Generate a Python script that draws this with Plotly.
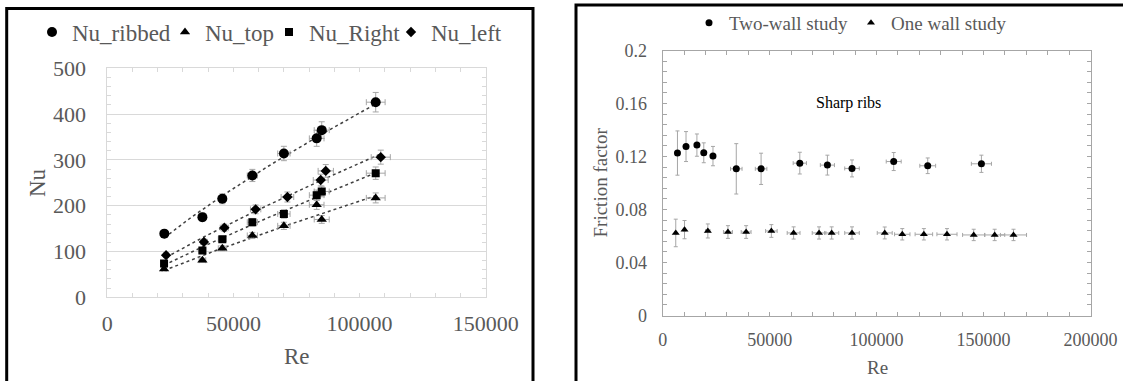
import numpy as np
import plotly.graph_objects as go

# ---------------- Left chart data (Nu vs Re) ----------------
re_ribbed = [22600, 37700, 45600, 57500, 70000, 83000, 85000, 106400]
nu_ribbed = [139, 175, 215, 266, 314, 347, 365, 426]
re_top = [22500, 37700, 45600, 57500, 70000, 83000, 85000, 106400]
nu_top = [62, 81, 107, 135, 156, 202, 170, 217]
re_right = [22500, 37700, 45600, 57500, 70000, 83000, 85000, 106400]
nu_right = [74, 102, 127, 164, 182, 223, 231, 271]
re_left = [23300, 38300, 46400, 58800, 71400, 84600, 86600, 108400]
nu_left = [92, 121, 152, 192, 219, 256, 276, 306]
nu_err_pct = 5.0
re_err_pct = 3.5

# ---------------- Right chart data (friction factor vs Re) ----------------
re_two = [6900, 10900, 16000, 19200, 23500, 34400, 46000, 64100, 77000, 88500, 108000, 123900, 149000]
f_two = [0.1226, 0.1275, 0.1286, 0.1228, 0.1203, 0.1107, 0.1107, 0.1150, 0.1135, 0.1110, 0.1162, 0.1130, 0.1145]
f_two_err = [0.0167, 0.0113, 0.0084, 0.0075, 0.0073, 0.0190, 0.0118, 0.0082, 0.0075, 0.0064, 0.0068, 0.0059, 0.0065]
re_two_err = [500, 700, 900, 1000, 1200, 2700, 2700, 3100, 3300, 3400, 3500, 3700, 4700]

re_one = [6100, 10200, 21100, 30500, 39000, 50800, 61200, 73100, 79000, 88500, 103800, 112000, 122100, 132900, 145400, 155200, 164000]
f_one = [0.0623, 0.0648, 0.0638, 0.0630, 0.0630, 0.0638, 0.0623, 0.0623, 0.0623, 0.0623, 0.0623, 0.0613, 0.0613, 0.0613, 0.0608, 0.0608, 0.0608]
f_one_err = [0.0104, 0.0069, 0.0053, 0.0048, 0.0048, 0.0048, 0.0046, 0.0046, 0.0046, 0.0046, 0.0045, 0.0043, 0.0043, 0.0043, 0.0043, 0.0043, 0.0043]
re_one_err = [300, 500, 1000, 2100, 2300, 2700, 3000, 3200, 3300, 3400, 3500, 3600, 4100, 4700, 5200, 4700, 6100]

FONT = "Liberation Serif"
GRAY_TXT = "#595959"
ERR_COL = "#a6a6a6"
W, H = 1123, 381

fig = go.Figure()


def px(x):
    return x / W


def py(y):
    return (H - y) / H


def power_fit(xs, ys):
    xs = np.asarray(xs, float)
    ys = np.asarray(ys, float)
    b, ln_a = np.polyfit(np.log(xs), np.log(ys), 1)
    xf = np.linspace(xs.min(), xs.max(), 60)
    return xf, np.exp(ln_a) * xf ** b


# name, x, y, symbol, size, legend id, legend left x (px)
left_series = [
    ("Nu_ribbed", re_ribbed, nu_ribbed, "circle", 10, "legend", 32),
    ("Nu_top", re_top, nu_top, "triangle-up", 9, "legend2", 165),
    ("Nu_Right", re_right, nu_right, "square", 8, "legend3", 269),
    ("Nu_left", re_left, nu_left, "diamond", 8, "legend4", 391),
]

for name, xs, ys, sym, sz, lg, lx in left_series:
    xf, yf = power_fit(xs, ys)
    fig.add_trace(go.Scatter(
        x=xf, y=yf, mode="lines", xaxis="x", yaxis="y",
        line=dict(color="#404040", width=1.5, dash="dot"),
        showlegend=False, hoverinfo="skip"))

for name, xs, ys, sym, sz, lg, lx in left_series:
    fig.add_trace(go.Scatter(
        x=xs, y=ys, mode="markers", name=name, xaxis="x", yaxis="y",
        legend=lg,
        marker=dict(symbol=sym, size=sz, color="black"),
        error_y=dict(type="percent", value=nu_err_pct, color=ERR_COL, thickness=1, width=3),
        error_x=dict(type="percent", value=re_err_pct, color=ERR_COL, thickness=1, width=3),
    ))

fig.add_trace(go.Scatter(
    x=re_two, y=f_two, mode="markers", name="Two-wall study", xaxis="x2", yaxis="y2",
    legend="legend5",
    marker=dict(symbol="circle", size=7, color="black"),
    error_y=dict(type="data", array=f_two_err, color=ERR_COL, thickness=1, width=2),
    error_x=dict(type="data", array=re_two_err, color=ERR_COL, thickness=1, width=2),
))
fig.add_trace(go.Scatter(
    x=re_one, y=f_one, mode="markers", name="One wall study", xaxis="x2", yaxis="y2",
    legend="legend6",
    marker=dict(symbol="triangle-up", size=7, color="black"),
    error_y=dict(type="data", array=f_one_err, color=ERR_COL, thickness=1, width=2),
    error_x=dict(type="data", array=re_one_err, color=ERR_COL, thickness=1, width=2),
))

left_tick_font = dict(family=FONT, size=22, color=GRAY_TXT)
right_tick_font = dict(family=FONT, size=18, color=GRAY_TXT)


def leg(xpix, ypix, size):
    return dict(
        orientation="h", x=px(xpix), xanchor="left", y=py(ypix), yanchor="middle",
        font=dict(family=FONT, size=size, color=GRAY_TXT), itemwidth=30,
        bgcolor="rgba(0,0,0,0)", borderwidth=0,
    )


legends = {}
for name, xs, ys, sym, sz, lg, lx in left_series:
    legends[lg] = leg(lx, 32, 23)
legends["legend5"] = leg(689, 23, 19)
legends["legend6"] = leg(851, 23, 19)

fig.update_layout(
    width=W, height=H, autosize=False,
    margin=dict(l=0, r=0, t=0, b=0, autoexpand=False),
    paper_bgcolor="white", plot_bgcolor="white",
    font=dict(family=FONT, color=GRAY_TXT),
    xaxis=dict(
        domain=[px(107.3), px(485.7)], anchor="y", range=[0, 150000],
        dtick=50000, tickformat="d", tickfont=left_tick_font,
        showgrid=False, zeroline=False, automargin=False,
        showline=True, linecolor="#d9d9d9", linewidth=1, mirror="ticks",
        ticks="inside", ticklen=4, tickcolor="#d9d9d9",
        minor=dict(dtick=10000, ticks="inside", ticklen=4, tickcolor="#d9d9d9", showgrid=False),
        ticklabelstandoff=6,
    ),
    yaxis=dict(
        domain=[py(297.3), py(68.3)], anchor="x", range=[0, 500],
        dtick=100, tickfont=left_tick_font,
        showgrid=True, gridcolor="#d9d9d9", gridwidth=1, zeroline=False, automargin=False,
        showline=True, linecolor="#d9d9d9", linewidth=1, mirror="ticks",
        ticks="inside", ticklen=4, tickcolor="#d9d9d9",
        minor=dict(dtick=20, ticks="inside", ticklen=4, tickcolor="#d9d9d9", showgrid=False),
        ticklabelstandoff=16,
    ),
    xaxis2=dict(
        domain=[px(662.7), px(1090.5)], anchor="y2", range=[0, 200000],
        dtick=50000, tickformat="d", tickfont=right_tick_font,
        showgrid=False, zeroline=False, automargin=False,
        showline=True, linecolor="#a6a6a6", linewidth=1, mirror="ticks",
        ticks="inside", ticklen=4, tickcolor="#a6a6a6",
        minor=dict(dtick=10000, ticks="inside", ticklen=4, tickcolor="#a6a6a6", showgrid=False),
        ticklabelstandoff=8,
    ),
    yaxis2=dict(
        domain=[py(315.5), py(50.5)], anchor="x2", range=[0, 0.2],
        dtick=0.04, tickfont=right_tick_font,
        showgrid=False, zeroline=False, automargin=False,
        showline=True, linecolor="#a6a6a6", linewidth=1, mirror="ticks",
        ticks="inside", ticklen=4, tickcolor="#a6a6a6",
        minor=dict(dtick=0.008, ticks="inside", ticklen=4, tickcolor="#a6a6a6", showgrid=False),
        ticklabelstandoff=11,
    ),
    annotations=[
        dict(text="Re", xref="paper", yref="paper", x=px(297), y=py(356.7),
             showarrow=False, xanchor="center", yanchor="middle",
             font=dict(family=FONT, size=23, color=GRAY_TXT)),
        dict(text="Nu", xref="paper", yref="paper", x=px(37), y=py(183),
             showarrow=False, xanchor="center", yanchor="middle", textangle=-90,
             font=dict(family=FONT, size=23, color=GRAY_TXT)),
        dict(text="Re", xref="paper", yref="paper", x=px(877.5), y=py(367),
             showarrow=False, xanchor="center", yanchor="middle",
             font=dict(family=FONT, size=19, color=GRAY_TXT)),
        dict(text="Friction factor", xref="paper", yref="paper", x=px(599.5), y=py(183),
             showarrow=False, xanchor="center", yanchor="middle", textangle=-90,
             font=dict(family=FONT, size=19, color=GRAY_TXT)),
        dict(text="Sharp ribs", xref="x2", yref="y2", x=87000, y=0.160,
             showarrow=False, xanchor="center", yanchor="middle",
             font=dict(family=FONT, size=16, color="black")),
    ],
    shapes=[
        dict(type="rect", xref="paper", yref="paper",
             x0=px(6.7), x1=px(533), y0=-0.05, y1=py(8.5),
             line=dict(color="black", width=3), fillcolor="rgba(0,0,0,0)", layer="above"),
        dict(type="rect", xref="paper", yref="paper",
             x0=px(576), x1=1.05, y0=-0.05, y1=py(5),
             line=dict(color="black", width=3), fillcolor="rgba(0,0,0,0)", layer="above"),
    ],
    **legends,
)

fig.write_html("out.html", config={"displayModeBar": False},
               post_script="document.body.style.margin='0px';")
